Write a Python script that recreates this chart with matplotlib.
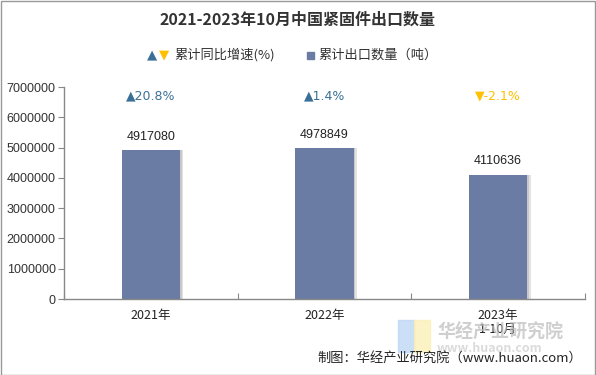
import matplotlib
matplotlib.use("Agg")
import matplotlib.pyplot as plt
from matplotlib.patches import Rectangle

plt.rcParams['font.family'] = ['Noto Sans CJK SC', 'DejaVu Sans']

categories = ["2021年", "2022年", "2023年\n1-10月"]
volumes = [4917080, 4978849, 4110636]
growth = [20.8, 1.4, -2.1]
yticks = [0, 1000000, 2000000, 3000000, 4000000, 5000000, 6000000, 7000000]

bar_color = "#6A7CA3"
up_color = "#3A7097"
down_color = "#FFC000"

W, H = 596, 375
fig = plt.figure(figsize=(W/100, H/100), dpi=100)
ax = fig.add_axes([64/W, 1-299/H, (585-64)/W, (299-87)/H])

x = list(range(len(categories)))
# soft shadow
ax.bar([i + 0.02 for i in x], volumes, width=0.335, color="#e2e2e2", zorder=1)
ax.bar([i + 0.01 for i in x], volumes, width=0.335, color="#c8c8c8", zorder=1)
ax.bar(x, volumes, width=0.335, color=bar_color, zorder=2)

ax.set_xlim(-0.5, len(categories) - 0.5)
ax.set_ylim(0, 7000000)
ax.set_yticks(yticks)
ax.set_yticklabels([str(v) for v in yticks], fontsize=9, color="#333333", family="Liberation Sans")
ax.set_xticks([i - 0.5 for i in range(len(categories) + 1)], minor=False)
ax.set_xticklabels([])
ax.tick_params(axis='x', length=4, color="#888888", direction='in')
ax.tick_params(axis='y', length=4, color="#888888", pad=2)
for i, c in enumerate(categories):
    ax.text(i, -330000, c, ha='center', va='top', fontsize=9, color="#222222", linespacing=1.1)

for s in ['top', 'right']:
    ax.spines[s].set_visible(False)
for s in ['left', 'bottom']:
    ax.spines[s].set_color("#888888")
    ax.spines[s].set_linewidth(1)

for i, v in enumerate(volumes):
    ax.text(i, v + 250000, str(v), ha='center', va='bottom', fontsize=9, color="#222222", family="Liberation Sans")
for i, g in enumerate(growth):
    if g >= 0:
        sym, col = "▲", up_color
    else:
        sym, col = "▼", down_color
    ax.text(i, 6700000, sym + f"{g}%", ha='center', va='center', fontsize=9, color=col,
            family=["DejaVu Sans"])

# title
fig.text(0.5, 1-20/H, "2021-2023年10月中国紧固件出口数量", ha='center', va='center',
         fontsize=11.5, fontweight='bold', color="#333333")
# legend
fig.text(147/W, 1-55/H, "▲", ha='left', va='center', fontsize=9.5, color=up_color, family=["DejaVu Sans"])
fig.text(159/W, 1-55/H, "▼", ha='left', va='center', fontsize=9.5, color=down_color, family=["DejaVu Sans"])
fig.text(174/W, 1-55/H, "累计同比增速(%)", ha='left', va='center', fontsize=9.5, color="#333333")
fig.add_artist(Rectangle((307/W, 1-59/H), 7/W, 7/H, transform=fig.transFigure, color=bar_color))
fig.text(318/W, 1-55/H, "累计出口数量（吨）", ha='left', va='center', fontsize=9.5, color="#333333")

# watermark
fig.add_artist(Rectangle((398/W, 1-352/H), 16/W, 32/H, transform=fig.transFigure, color="#BFD7F5", alpha=0.8))
fig.add_artist(Rectangle((414/W, 1-352/H), 16/W, 32/H, transform=fig.transFigure, color="#FBEFB8", alpha=0.8))
fig.text(437/W, 1-332/H, "华经产业研究院", ha='left', va='center', fontsize=13, fontweight='bold',
         color="#bbbbbb", alpha=0.7)
fig.text(437/W, 1-349/H, "www.huaon.com", ha='left', va='center', fontsize=9, fontweight='bold',
         color="#cccccc", alpha=0.7)

fig.text(582/W, 1-358/H, "制图：华经产业研究院（www.huaon.com）", ha='right', va='center',
         fontsize=9.5, color="#222222")

# border
fig.add_artist(Rectangle((0.5/W, 0.5/H), (W-1.5)/W, (H-1.5)/H, transform=fig.transFigure,
                         fill=False, edgecolor="#999999", linewidth=1))

fig.savefig("out.png", dpi=100)
